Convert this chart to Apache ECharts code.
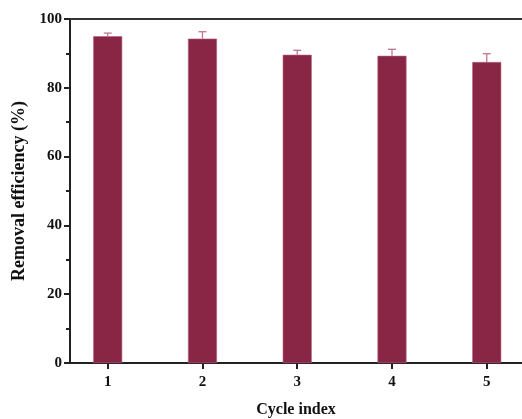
<!DOCTYPE html>
<html><head><meta charset="utf-8">
<script src="https://cdn.jsdelivr.net/npm/echarts@6/dist/echarts.min.js"></script>
<style>html,body{margin:0;padding:0;background:#fff}#c{width:522px;height:419px}</style>
</head><body><div id="c"></div>
<script>
var cycles = [1, 2, 3, 4, 5];
var efficiency = [95.0, 94.3, 89.6, 89.3, 87.5];
var errors = [0.9, 2.0, 1.3, 1.9, 2.4];
var yTicks = [0, 20, 40, 60, 80, 100];

var barData = cycles.map(function (c, i) { return [c, efficiency[i]]; });
var errData = cycles.map(function (c, i) { return [c, efficiency[i], efficiency[i] + errors[i]]; });

var font = '"Liberation Serif", "Times New Roman", serif';
var axisColor = '#222';
var chart = echarts.init(document.getElementById('c'));
chart.setOption({
  animation: false,
  grid: { left: 70, top: 19, right: 0, bottom: 56, outerBoundsMode: 'none', containLabel: false },
  xAxis: [{
    type: 'value', min: 0.602, max: 5.372,
    name: 'Cycle index', nameLocation: 'middle', nameGap: 39,
    nameTextStyle: { fontFamily: font, fontWeight: 'bold', fontSize: 16, color: '#111' },
    axisLine: { show: true, lineStyle: { color: axisColor, width: 2 } },
    axisTick: { show: true, inside: false, length: 6, customValues: cycles, lineStyle: { color: axisColor, width: 2 } },
    axisLabel: { customValues: cycles, fontFamily: font, fontWeight: 'bold', fontSize: 15, color: '#111', margin: 12 },
    splitLine: { show: false }
  }, {
    type: 'value', position: 'top', min: 0.602, max: 5.372,
    axisLine: { show: true, onZero: false, lineStyle: { color: '#333', width: 2 } },
    axisTick: { show: false }, axisLabel: { show: false }, splitLine: { show: false }
  }],
  yAxis: {
    type: 'value', min: 0, max: 100, interval: 20,
    name: 'Removal efficiency (%)', nameLocation: 'middle', nameGap: 42,
    nameTextStyle: { fontFamily: font, fontWeight: 'bold', fontSize: 18, color: '#111' },
    axisLine: { show: true, lineStyle: { color: axisColor, width: 2 } },
    axisTick: { show: true, length: 6, lineStyle: { color: axisColor, width: 2 } },
    minorTick: { show: true, splitNumber: 2, length: 4, lineStyle: { color: axisColor, width: 2 } },
    axisLabel: { fontFamily: font, fontWeight: 'bold', fontSize: 15, color: '#111', margin: 8,
      formatter: function (v) { return yTicks.indexOf(v) >= 0 ? String(v) : ''; } },
    splitLine: { show: false }
  },
  series: [{
    type: 'bar', data: barData, barWidth: 29,
    itemStyle: { color: '#8A2645', borderColor: '#b5607e', borderWidth: 0.6 }
  }, {
    type: 'custom', data: errData, z: 3,
    renderItem: function (params, api) {
      var x = api.value(0);
      var base = api.coord([x, api.value(1)]);
      var top = api.coord([x, api.value(2)]);
      var cap = 4;
      var style = { stroke: '#c0758f', lineWidth: 1.3 };
      return { type: 'group', children: [
        { type: 'line', shape: { x1: base[0], y1: base[1], x2: top[0], y2: top[1] }, style: style },
        { type: 'line', shape: { x1: top[0] - cap, y1: top[1], x2: top[0] + cap, y2: top[1] }, style: style }
      ] };
    }
  }]
});
</script></body></html>
